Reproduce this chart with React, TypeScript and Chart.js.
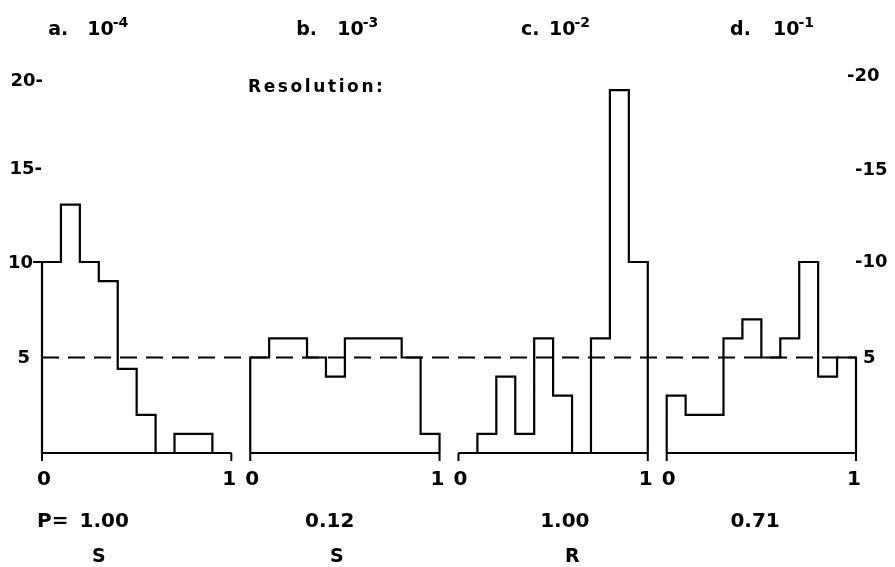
import React, { useEffect, useRef } from "react";
import { Chart, registerables } from "chart.js";

Chart.register(...registerables);

// ---- data ----
const binStarts = [0, 0.1, 0.2, 0.3, 0.4, 0.5, 0.6, 0.7, 0.8, 0.9];
const binWidth = 0.1;
const panelA = [10, 13, 10, 9, 4.4, 2, 0, 1, 1, 0];
const panelB = [5, 6, 6, 5, 4, 6, 6, 6, 5, 1];
const panelC = [0, 1, 4, 1, 6, 3, 0, 6, 19, 10];
const panelD = [3, 2, 2, 6, 7, 5, 6, 10, 4, 5];
const panelLetters = ["a.", "b.", "c.", "d."];
const resolutionExponents = ["-4", "-3", "-2", "-1"];
const pValues = ["1.00", "0.12", "1.00", "0.71"];
const verdicts = ["S", "S", "R", ""];
const referenceLevel = 5;
const yTickValues = [20, 15, 10, 5];
const leftTickLabels = ["20-", "15-", "10", "5"];
const rightTickLabels = ["-20", "-15", "-10", "5"];
const xTickLabels = ["0", "1"];
const axisTitle = "Resolution:";
const pPrefix = "P=";

// ---- layout / style ----
const INK = "#000";
const FONT = '"DejaVu Sans", "Liberation Sans", sans-serif';
const PANEL_STEP = 1.1;
const titleRel = [0.033, 0.243, 0.33, 0.335];
const titleGap = [39, 41, 28, 43];
const pRel = [0.329, 0.42, 0.562, 0.467];
const verdictRel = [0.3, 0.457, 0.601, 0.5];
const leftDx = [1, 0, -9, -12];
const leftDy = [10, 3, 1, 1];
const leftTickMark = [false, false, true, false];
const rightDx = [-9, -1, -1, 7];
const rightDy = [5, 4, 0, 1];

function histogramPoints(values: number[], offset: number) {
  const pts: { x: number; y: number }[] = [{ x: offset + binStarts[0], y: 0 }];
  values.forEach((v, i) => pts.push({ x: offset + binStarts[i], y: v }));
  pts.push({ x: offset + binStarts[binStarts.length - 1] + binWidth, y: 0 });
  return pts;
}

function drawSpaced(ctx: CanvasRenderingContext2D, text: string, x: number, y: number, spacing: number) {
  let cx = x;
  for (const ch of text) {
    ctx.fillText(ch, cx, y);
    cx += ctx.measureText(ch).width + spacing;
  }
}

const textPlugin = {
  id: "figureText",
  afterDraw(chart: any) {
    const ctx: CanvasRenderingContext2D = chart.ctx;
    const xs = chart.scales.x;
    const ys = chart.scales.y;
    const y0 = ys.getPixelForValue(0);
    const pw = xs.getPixelForValue(1) - xs.getPixelForValue(0);
    ctx.save();
    ctx.fillStyle = INK;
    ctx.strokeStyle = INK;
    ctx.lineWidth = 2;

    for (let p = 0; p < 4; p++) {
      const left = xs.getPixelForValue(p * PANEL_STEP);
      const right = xs.getPixelForValue(p * PANEL_STEP + 1);
      for (const px of [left, right]) {
        ctx.beginPath();
        ctx.moveTo(px, y0);
        ctx.lineTo(px, y0 + 8);
        ctx.stroke();
      }
      ctx.font = `bold 20px ${FONT}`;
      ctx.textBaseline = "alphabetic";
      ctx.textAlign = "center";
      ctx.fillText(xTickLabels[0], left + 2, 485);
      ctx.fillText(xTickLabels[1], right - 2, 485);

      const lx = left + titleRel[p] * pw;
      ctx.textAlign = "left";
      ctx.font = `bold 19px ${FONT}`;
      ctx.fillText(panelLetters[p], lx, 35);
      const tx = lx + titleGap[p];
      ctx.fillText("10", tx, 35);
      const tw = ctx.measureText("10").width;
      ctx.font = `bold 14px ${FONT}`;
      ctx.fillText(resolutionExponents[p], tx + tw - 1, 27);

      ctx.font = `bold 20px ${FONT}`;
      ctx.textAlign = "center";
      ctx.fillText(pValues[p], left + pRel[p] * pw, 527);
      if (verdicts[p]) {
        ctx.font = `bold 19px ${FONT}`;
        ctx.fillText(verdicts[p], left + verdictRel[p] * pw, 562);
      }
    }

    ctx.font = `bold 20px ${FONT}`;
    ctx.textAlign = "left";
    ctx.fillText(pPrefix, 37, 527);

    ctx.font = `bold 17px ${FONT}`;
    ctx.textAlign = "left";
    drawSpaced(ctx, axisTitle, 248, 92, 2.6);

    ctx.font = `bold 18px ${FONT}`;
    ctx.textBaseline = "middle";
    const left0 = chart.chartArea.left;
    const right0 = chart.chartArea.right;
    yTickValues.forEach((v, i) => {
      const py = ys.getPixelForValue(v);
      ctx.textAlign = "right";
      ctx.fillText(leftTickLabels[i], left0 + leftDx[i], py + leftDy[i]);
      if (leftTickMark[i]) {
        ctx.beginPath();
        ctx.moveTo(left0 + leftDx[i], py);
        ctx.lineTo(left0, py);
        ctx.stroke();
      }
      ctx.textAlign = "left";
      ctx.fillText(rightTickLabels[i], right0 + rightDx[i], py + rightDy[i]);
    });
    ctx.restore();
  },
};

export default function App() {
  const ref = useRef<HTMLCanvasElement>(null);
  useEffect(() => {
    const canvas = ref.current!;
    const series = [panelA, panelB, panelC, panelD];
    const datasets: any[] = [];
    series.forEach((vals, p) => {
      const off = p * PANEL_STEP;
      datasets.push({
        data: histogramPoints(vals, off),
        stepped: "before",
        borderColor: INK,
        borderWidth: 2.2,
        pointRadius: 0,
        fill: false,
        clip: false,
      });
      datasets.push({
        data: [
          { x: off, y: 0 },
          { x: off + 1, y: 0 },
        ],
        borderColor: INK,
        borderWidth: 2.2,
        pointRadius: 0,
        fill: false,
        clip: false,
      });
    });
    datasets.push({
      data: [
        { x: 0, y: referenceLevel },
        { x: 3 * PANEL_STEP + 1, y: referenceLevel },
      ],
      borderColor: INK,
      borderWidth: 2,
      borderDash: [17, 9],
      pointRadius: 0,
      fill: false,
      clip: false,
    });

    const chart = new Chart(canvas, {
      type: "line",
      data: { datasets },
      options: {
        responsive: false,
        animation: false,
        events: [],
        layout: { padding: { left: 42, right: 39, top: 71, bottom: 114 } },
        scales: {
          x: { type: "linear", min: 0, max: 3 * PANEL_STEP + 1, display: false },
          y: { type: "linear", min: 0, max: 20, display: false },
        },
        plugins: { legend: { display: false }, tooltip: { enabled: false } },
      },
      plugins: [textPlugin],
    });
    return () => chart.destroy();
  }, []);

  return (
    <div style={{ position: "absolute", left: 0, top: 0, width: 895, height: 567, background: "#fff" }}>
      <canvas ref={ref} width={895} height={567} style={{ display: "block", width: 895, height: 567 }} />
    </div>
  );
}
